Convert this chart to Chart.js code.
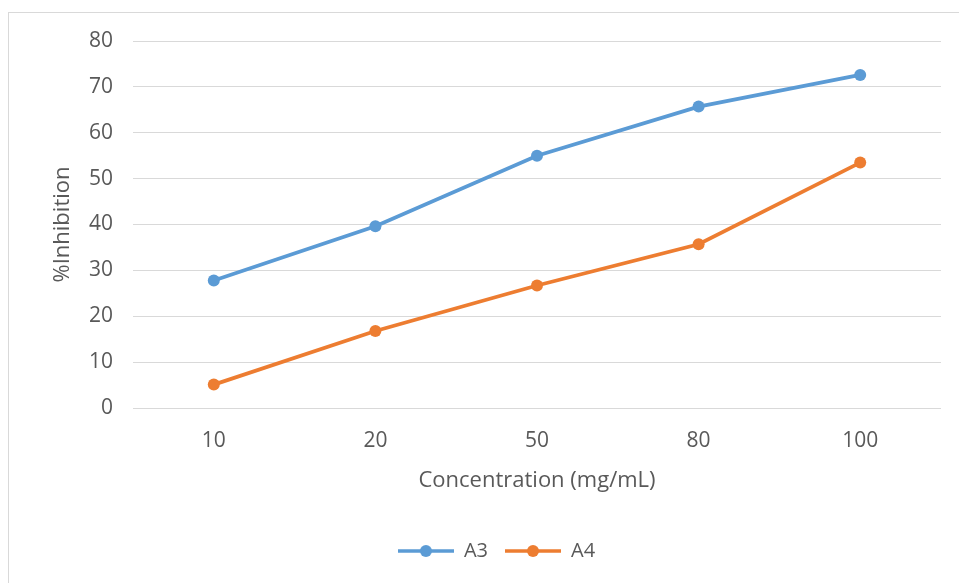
<!DOCTYPE html>
<html>
<head>
<meta charset="utf-8">
<script src="https://cdn.jsdelivr.net/npm/chart.js@4/dist/chart.umd.min.js"></script>
<style>
  html, body { margin: 0; padding: 0; background: #fff; }
  #wrap { width: 959px; height: 583px; position: relative; }
</style>
</head>
<body>
<div id="wrap"><canvas id="c" width="959" height="583"></canvas></div>
<script>
const categories = ['10', '20', '50', '80', '100'];
const seriesA3 = [27.8, 39.6, 55.0, 65.7, 72.6];
const seriesA4 = [5.1, 16.8, 26.7, 35.7, 53.5];
const seriesNames = ['A3', 'A4'];
const seriesColors = ['#5B9BD5', '#ED7D31'];
const yTicksMin = 0, yTicksMax = 80, yTickStep = 10;
const xTitle = 'Concentration (mg/mL)';
const yTitle = '%Inhibition';

const FONT = "'Open Sans', 'Noto Sans', sans-serif";
const TXT = '#595959';
const GRID = '#d9d9d9';

function legendIcon(color) {
  const cv = document.createElement('canvas');
  cv.width = 56; cv.height = 14;
  const g = cv.getContext('2d');
  g.strokeStyle = color; g.lineWidth = 3.5;
  g.beginPath(); g.moveTo(0, 7); g.lineTo(56, 7); g.stroke();
  g.fillStyle = color;
  g.beginPath(); g.arc(28, 7, 6, 0, Math.PI * 2); g.fill();
  return cv;
}
const icons = seriesColors.map(legendIcon);

const borderPlugin = {
  id: 'outerBorder',
  beforeDraw(chart) {
    const ctx = chart.ctx;
    ctx.save();
    ctx.fillStyle = '#ffffff';
    ctx.fillRect(0, 0, chart.width, chart.height);
    ctx.strokeStyle = '#d9d9d9';
    ctx.lineWidth = 1;
    ctx.strokeRect(8.5, 12.5, 960, 590);
    ctx.restore();
  }
};

new Chart(document.getElementById('c'), {
  type: 'line',
  data: {
    labels: categories,
    datasets: [
      { label: seriesNames[0], data: seriesA3, borderColor: seriesColors[0], backgroundColor: seriesColors[0],
        borderWidth: 3.75, pointRadius: 6, pointHoverRadius: 6, pointBorderWidth: 0, tension: 0 },
      { label: seriesNames[1], data: seriesA4, borderColor: seriesColors[1], backgroundColor: seriesColors[1],
        borderWidth: 3.75, pointRadius: 6, pointHoverRadius: 6, pointBorderWidth: 0, tension: 0 }
    ]
  },
  options: {
    responsive: false,
    animation: false,
    devicePixelRatio: 1,
    layout: { padding: { left: 52, right: 18, top: 41, bottom: 12 } },
    plugins: {
      tooltip: { enabled: false },
      legend: {
        position: 'bottom',
        labels: {
          usePointStyle: true,
          pointStyleWidth: 56,
          padding: 17,
          color: TXT,
          font: { family: FONT, size: 20 },
          generateLabels(chart) {
            const base = Chart.defaults.plugins.legend.labels.generateLabels(chart);
            base.forEach((l, i) => { l.pointStyle = icons[i]; });
            return base;
          }
        }
      }
    },
    scales: {
      x: {
        offset: true,
        grid: { display: false, drawTicks: false },
        border: { display: false },
        ticks: { color: TXT, font: { family: FONT, size: 21 }, padding: 20 },
        title: { display: true, text: xTitle, color: TXT, font: { family: FONT, size: 22 }, padding: { top: 4, bottom: 30 } },
        afterFit(scale) { scale.height = 116; }
      },
      y: {
        min: yTicksMin, max: yTicksMax,
        grid: { color: GRID, lineWidth: 1, drawTicks: false },
        border: { display: false },
        ticks: { stepSize: yTickStep, color: TXT, font: { family: FONT, size: 21 }, padding: 20 },
        title: { display: true, text: yTitle, color: TXT, font: { family: FONT, size: 22 }, padding: { top: -2, bottom: 4 } },
        afterFit(scale) { scale.width = 81; }
      }
    }
  },
  plugins: [borderPlugin]
});
</script>
</body>
</html>
